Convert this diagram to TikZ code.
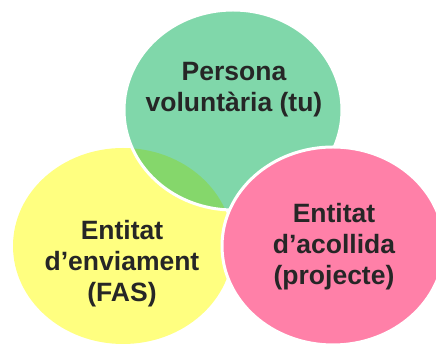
\documentclass[tikz,border=0pt]{standalone}
\usepackage{fontspec}
\setmainfont{Liberation Sans}
\definecolor{cgreen}{HTML}{80D7AA}
\definecolor{cover}{HTML}{85D76B}
\definecolor{cyellow}{HTML}{FFFF80}
\definecolor{cpink}{HTML}{FF80A8}
\definecolor{ctext}{HTML}{262626}
\tikzset{
  lbl/.style={align=center, text=ctext, font=\fontsize{26.5}{31}\selectfont\bfseries, inner sep=0pt},
  rim/.style={draw=white, line width=3pt}
}
\begin{document}
\begin{tikzpicture}[x=1pt,y=1pt]
\useasboundingbox (0,0) rectangle (436,344);
\coordinate (cg) at (233,234);
\coordinate (cy) at (123,98);
\coordinate (cp) at (333,98);
% yellow
\fill[cyellow] (cy) ellipse [x radius=110, y radius=98];
% green
\fill[cgreen] (cg) ellipse [x radius=109, y radius=100];
\begin{scope}
  \clip (cg) ellipse [x radius=109, y radius=100];
  \fill[cover] (cy) ellipse [x radius=110, y radius=98];
\end{scope}
\draw[rim] (cg) ellipse [x radius=109, y radius=100];
% pink
\fill[cpink] (cp) ellipse [x radius=111, y radius=99];
\draw[rim] (cp) ellipse [x radius=111, y radius=99];
% labels
\node[lbl] (tg) at (234,254) {Persona\\voluntària (tu)};
\node[lbl] (ty) at (122,80) {Entitat\\d’enviament\\(FAS)};
\node[lbl] (tp) at (334,97) {Entitat\\d’acollida\\(projecte)};
\end{tikzpicture}
\end{document}
